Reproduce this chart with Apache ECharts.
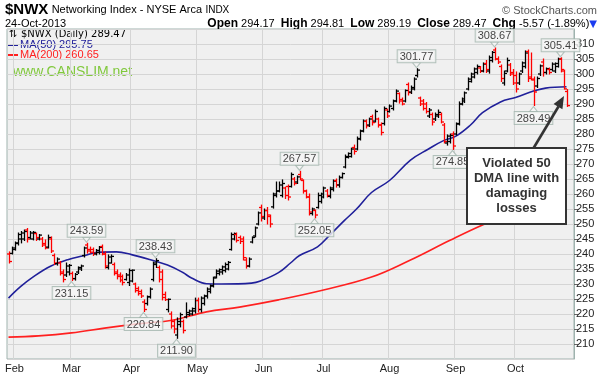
<!DOCTYPE html>
<html><head><meta charset="utf-8">
<script src="https://cdn.jsdelivr.net/npm/echarts@6/dist/echarts.min.js"></script>
<style>html,body{margin:0;padding:0;background:#fff}#c{width:602px;height:374px}</style>
</head><body><div id="c"></div>
<script>
// ---- categories (trading days, Jan 30 - Oct 24 2013) ----
const monthNames = ['Jan','Feb','Mar','Apr','May','Jun','Jul','Aug','Sep','Oct'];
const tradingDays = [
 [30,31],
 [1,4,5,6,7,8,11,12,13,14,15,19,20,21,22,25,26,27,28],
 [1,4,5,6,7,8,11,12,13,14,15,18,19,20,21,22,25,26,27,28],
 [1,2,3,4,5,8,9,10,11,12,15,16,17,18,19,22,23,24,25,26,29,30],
 [1,2,3,6,7,8,9,10,13,14,15,16,17,20,21,22,23,24,28,29,30,31],
 [3,4,5,6,7,10,11,12,13,14,17,18,19,20,21,24,25,26,27,28],
 [1,2,3,5,8,9,10,11,12,15,16,17,18,19,22,23,24,25,26,29,30,31],
 [1,2,5,6,7,8,9,12,13,14,15,16,19,20,21,22,23,26,27,28,29,30],
 [3,4,5,6,9,10,11,12,13,16,17,18,19,20,23,24,25,26,27,30],
 [1,2,3,4,7,8,9,10,11,14,15,16,17,18,21,22,23,24]
];
const padCategories = ['pad1','pad2'];

// ---- daily OHLC values ----
const openV = [240,240.2,241.5,243.5,245,245,248,245.5,245,246.8,245,245,243.5,242.3,245,239.5,236.8,237,234,233,234,233.5,231.8,234,235,239.5,243,241.5,241.5,240,240.5,242.5,240,235.5,237,236.5,234,233,232.5,231.5,230.5,231,230,228.5,227.5,224,223.5,225.8,231.5,236.5,235.5,234,226.5,221.5,220,217.5,213,216.5,217.5,219,219.8,220,221,224.5,221.5,223.5,226,227.5,229.5,232.3,233.5,234,234.5,235,241.5,245,246.5,245.5,245,238,236,244,246,250,255.5,252,254.5,252.5,255.7,259.5,261,259.5,262,262.5,262.5,265,264,266.5,264.5,261,259,253.5,254.5,255.5,257.5,259,261,259.2,261.5,264.5,263,265.5,269,272.2,272.5,275.5,275,278.3,281,284.2,283,285.8,284.3,285,283,283.5,288,287.5,288.5,291,293.5,291.5,291,296.5,294,295,299.5,292,291,290,286,286.5,285,286,286.5,283,277,277.5,280,280,283.5,290,291,295,297.5,299,300.5,302,301,303.5,301,304.5,308,305,302.5,297,301,303,300.5,299.5,297,301,302.5,307.5,299,298,296,300,304,300.5,301.5,301.5,301,302.5,305,301,294.17];
const highV = [240.7,242.3,244,247,247.5,248,248.5,247.5,247.5,247,246.5,245.5,244.7,246.3,245.7,240,238.7,237.5,234.7,237,236.5,234,233.5,235.7,236.3,242.3,243.59,242.3,242,241.5,242.5,243,240.7,239.7,239.7,237,234.7,233.7,233,233.5,235,234.7,230.3,229,228,224.7,226,228.7,237.3,238.43,236,234.7,227.3,225,220.7,218,218.7,220.3,218,223.7,221.3,222,225.3,225.3,225.7,226.3,228.7,229.7,232.3,234.7,235,236,237,237.5,247,247,247,246,245.7,238.7,238.7,245.7,249,254,256.3,255,255.5,253,260.3,264,264,264.7,262.3,263,267,265.5,266,267.57,264.7,261.3,260,255.3,254.7,260.3,260.3,262.3,261.5,262.3,264.7,265,266,267,273,273.7,275.3,276.3,279,281.3,284.7,284.7,285.3,286.3,288,285.3,283.7,289,288.3,289.7,291.3,294.7,293.7,292,294.7,297,296,298.7,301.77,292.3,291.5,290.5,288.5,287,287,288,287,283.5,279.7,280,280.7,283.7,290.7,292,294,298.7,300.3,302,303,302.5,303.7,304.5,306,307.5,308.67,305.7,303,301,305.3,303.5,301.5,300.7,300.3,304,307.7,308,307,299,299,303,305,302,302,303.7,303.7,305.3,305.41,301.3,294.81];
const lowV = [237,240,241.3,243,243.7,244.5,244,245,244.7,244.5,244.7,242.5,241.7,242,240.5,236.5,236.3,233,230.7,232.5,233,231.15,231.3,233.5,234.5,239,240.3,240.3,239.5,239.7,240,239.7,235.3,235,237,233,231.7,230.7,229.7,231.3,229.5,230.7,227.3,226.3,225.5,220.84,223,225.3,231,235.5,230.7,224.7,224.5,220.7,215.3,213.7,211.9,215.7,213.7,218.7,219.5,219.7,220.3,220.7,220.7,223,225.3,227,229,232,233,233.3,234,234.7,241.3,244.7,244,243.5,238,235.3,235.7,243.7,245.7,249.7,251,251.5,250,249,255.3,259,260.7,259,258.5,258,262.3,263,263.5,264.7,260.3,258.7,253,253,252.05,255.3,257,258.7,259,258.7,261,262.3,262.3,265.3,268.7,272,272.3,273.3,274.7,278,280.7,282,282.5,283,284,282.3,279.7,283,285.5,287.3,288,290.7,290.3,289.7,290.7,293,293.5,294.7,299,289.5,288,287,285.5,283,284.5,285.5,283.7,277,276.3,277,274.85,279.7,283,289.7,290.5,294.7,297.3,298.7,300,300.5,300.7,300.5,300.3,304,304.7,303.5,297.5,296.3,300.7,299.5,296.5,294,296.5,300.5,302,297.5,298,289.49,295.5,299.5,299.3,300,300,301,300.5,302.3,300.7,295,289.19];
const closeV = [237.5,242,243.7,246.5,247,247.5,245,247,247.2,245.5,246.3,243,242,245.5,241,237,238.3,233.5,231.5,236,236.2,231.8,233.2,235.5,236,242,241,240.6,240.2,241.2,242.2,240,236,239,239.2,233.5,232.5,231.3,230.5,233,234.5,234.6,227.8,226.8,226,221.5,225.7,228.3,237,237.8,231.5,225.5,224.8,224.9,216,215,217.5,219.8,214.5,220.5,221,221.8,224.5,221.5,225.3,226,228.3,229.3,232,234.3,234.8,235.7,236.5,237.2,246.5,246.8,244.5,244.2,238.8,236,238.3,245.5,248.7,253.7,252.5,254.5,253,250,260,261,263,263.5,259.5,259,266.5,263.5,265.7,265,261,259,254,255,253,259.5,260,262,259.5,262,264.3,263,265.5,266.8,272.5,273.5,275,274.2,278.5,281,284.3,282.7,285,283.8,287.5,283,280.5,288.5,286,289.3,291,294.3,291,290,294.5,293.8,295.5,298.3,301.3,290,288.5,287.5,288,284,286.5,287.2,284,277.5,279.3,279.5,276,283.3,290,291.7,293.7,298.3,300,301.7,302.5,301,303.3,301.5,305.5,307.2,305,304,298.5,300.2,304.5,300,297,295,300,303.7,307,298.5,298.3,294,298.5,302.7,300.5,301.8,300.5,303.3,303.5,305,301.5,295.04,289.47];

// ---- moving averages: [bar index, value] ----
const ma50Pts = [[0,225.3],[4,229.1],[8,232.2],[14,235.9],[20,238.2],[25,239.4],[30,240.6],[36,240.7],[41,239.8],[47,238.2],[53,236.3],[58,233.9],[61,232],[66,230.1],[71,230],[81,230.3],[84,231],[90,233.8],[94,237],[97,239.5],[103,242.4],[107,246.2],[112,251.2],[116,255],[121,260.5],[127,264.5],[134,271.3],[140,275],[145,277.8],[149,279.2],[154,283],[158,287.1],[164,290.7],[169,292.2],[175,294.3],[179,295.3],[186,295.75]];
const ma200Pts = [[0,212.3],[10,212.7],[21,213.7],[32,215.3],[43,216.7],[55,218],[66,220.7],[77,222.3],[90,224.7],[105,228],[121,232.3],[134,238],[147,244.5],[158,249.7],[171,255],[186,260.65]];

// ---- annotated highs / lows: [bar index, value] ----
const highLabels = [[26,243.59],[49,238.43],[97,267.57],[136,301.77],[162,308.67],[184,305.41]];
const lowLabels = [[21,231.15],[45,220.84],[56,211.90],[102,252.05],[148,274.85],[175,289.49]];

// ---- y axis ticks ----
const yMin = 205, yMax = 315, yStep = 5;

// build categories
const categories = [];
const monthStartIdx = new Set();
tradingDays.forEach((days, m) => {
  days.forEach((d, k) => {
    if (k === 0 && m > 0) monthStartIdx.add(categories.length);
    categories.push(monthNames[m] + ' ' + d);
  });
});
padCategories.forEach(p => categories.push(p));

const ohlc = closeV.map((c, i) => [i, openV[i], highV[i], lowV[i], c, (i > 0 && c >= closeV[i-1]) ? 1 : 0]);

function renderOHLC(params, api) {
  const i = api.value(0);
  const pO = api.coord([i, api.value(1)]);
  const pH = api.coord([i, api.value(2)]);
  const pL = api.coord([i, api.value(3)]);
  const pC = api.coord([i, api.value(4)]);
  const x = Math.round(pO[0]) + 0.5;
  const col = api.value(5) ? '#000000' : '#ff0000';
  const st = {stroke: col, lineWidth: 1.3};
  return {type: 'group', children: [
    {type: 'line', shape: {x1: x, y1: pH[1] - 0.5, x2: x, y2: pL[1] + 0.5}, style: st},
    {type: 'line', shape: {x1: x - 2.5, y1: pO[1], x2: x, y2: pO[1]}, style: st},
    {type: 'line', shape: {x1: x, y1: pC[1], x2: x + 2.5, y2: pC[1]}, style: st}
  ]};
}

const lblStyle = {
  show: true, formatter: p => p.value[1].toFixed(2), fontSize: 11,
  fontFamily: 'Liberation Sans', color: '#111', backgroundColor: '#f6f6f6',
  borderColor: '#a3b5ae', borderWidth: 1, padding: [1, 2, 0, 2]
};
const caretDown = 'path://M0,0 L8,0 L4,5 Z';
const caretUp = 'path://M0,5 L8,5 L4,0 Z';

const chart = echarts.init(document.getElementById('c'), null, {renderer: 'canvas'});
chart.setOption({
  animation: false,
  backgroundColor: '#ffffff',
  grid: {left: 7, right: 28, top: 29, height: 330, show: true, backgroundColor: '#f0f0f0', borderColor: '#9fb3ae', borderWidth: 1},
  xAxis: {
    type: 'category', data: categories, boundaryGap: true,
    axisLine: {show: false}, axisTick: {show: false},
    axisLabel: {interval: (idx) => monthStartIdx.has(idx), formatter: v => v.split(' ')[0],
      color: '#222', fontSize: 11, fontFamily: 'Liberation Sans', margin: 4},
    splitLine: {show: true, interval: (idx) => monthStartIdx.has(idx), lineStyle: {color: '#d5d5d5', width: 1}}
  },
  yAxis: {
    type: 'value', position: 'right', min: yMin, max: yMax, interval: yStep,
    axisLine: {show: true, lineStyle: {color: '#9fb3ae'}},
    axisTick: {show: true, length: 4, lineStyle: {color: '#666'}},
    axisLabel: {color: '#222', fontSize: 11, fontFamily: 'Liberation Sans', margin: 2, showMinLabel: false, showMaxLabel: false},
    splitLine: {lineStyle: {color: '#d5d5d5', width: 1}}
  },
  series: [
    {type: 'line', data: ma200Pts, smooth: 0.4, showSymbol: false, lineStyle: {color: '#ff2020', width: 1.6}, z: 2},
    {type: 'line', data: ma50Pts, smooth: 0.4, showSymbol: false, lineStyle: {color: '#20209a', width: 1.6}, z: 2},
    {type: 'custom', renderItem: renderOHLC, data: ohlc, encode: {x: 0, y: [1, 2, 3, 4]}, z: 3},
    {type: 'scatter', data: highLabels, symbol: caretDown, symbolSize: [8, 5], symbolOffset: [0, -3.5],
      itemStyle: {color: '#f6f6f6', borderColor: '#a3b5ae', borderWidth: 1}, z: 4, silent: true},
    {type: 'scatter', data: lowLabels, symbol: caretUp, symbolSize: [8, 5], symbolOffset: [0, 3.5],
      itemStyle: {color: '#f6f6f6', borderColor: '#a3b5ae', borderWidth: 1}, z: 4, silent: true},
    {type: 'scatter', data: highLabels, symbolSize: 1, itemStyle: {color: 'rgba(0,0,0,0)'}, z: 5,
      label: Object.assign({}, lblStyle, {position: 'top', distance: 6})},
    {type: 'scatter', data: lowLabels, symbolSize: 1, itemStyle: {color: 'rgba(0,0,0,0)'}, z: 5,
      label: Object.assign({}, lblStyle, {position: 'bottom', distance: 6})}
  ],
  graphic: [
    {type: 'text', x: 5, y: 10, style: {text: '{b|$NWX} {n|Networking Index - NYSE Arca} {s|INDX}', textVerticalAlign: 'middle',
      rich: {b: {font: 'bold 15px "Liberation Sans"', fill: '#000'}, n: {font: '11px "Liberation Sans"', fill: '#000'}, s: {font: '10px "Liberation Sans"', fill: '#000'}}}},
    {type: 'text', x: 597, y: 11, style: {text: '© StockCharts.com', font: '11px "Liberation Sans"', fill: '#555', textAlign: 'right', textVerticalAlign: 'middle'}},
    {type: 'text', x: 5, y: 24, style: {text: '24-Oct-2013', font: '11px "Liberation Sans"', fill: '#000', textVerticalAlign: 'middle'}},
    {type: 'text', x: 597, y: 24, style: {
      text: '{b|Open} 294.17  {b|High} 294.81  {b|Low} 289.19  {b|Close} 289.47  {b|Chg} -5.57 (-1.89%){t|▼}',
      font: '11px "Liberation Sans"', fill: '#000', textAlign: 'right', textVerticalAlign: 'middle',
      rich: {b: {font: 'bold 12px "Liberation Sans"', fill: '#000'}, t: {font: '10px "DejaVu Sans"', fill: '#1b3cf0'}}}},
    // legend
    {type: 'text', x: 9, y: 34, style: {text: '⇅', font: '10px "DejaVu Sans"', fill: '#000', textVerticalAlign: 'middle'}},
    {type: 'text', x: 21, y: 34, style: {text: '$NWX (Daily) 289.47', font: '10px "DejaVu Sans"', fill: '#000', textVerticalAlign: 'middle'}},
    {type: 'rect', shape: {x: 8, y: 44, width: 10, height: 2}, style: {fill: '#20209a'}},
    {type: 'text', x: 20, y: 45, style: {text: 'MA(50) 295.75', font: '11px "Liberation Sans"', fill: '#20209a', textVerticalAlign: 'middle'}},
    {type: 'rect', shape: {x: 8, y: 54, width: 10, height: 2}, style: {fill: '#ff2020'}},
    {type: 'text', x: 20, y: 55, style: {text: 'MA(200) 260.65', font: '11px "Liberation Sans"', fill: '#ff2020', textVerticalAlign: 'middle'}},
    {type: 'text', x: 13, y: 72, style: {text: 'www.CANSLIM.net', font: '14px "Liberation Sans"', fill: '#80c83c', textVerticalAlign: 'middle'}},
    // annotation
    {type: 'line', shape: {x1: 533, y1: 149, x2: 558.5, y2: 106.5}, style: {stroke: '#333', lineWidth: 2.6}, z: 10},
    {type: 'polygon', shape: {points: [[564, 96], [562.4, 109.2], [553.6, 103.9]]}, style: {fill: '#333'}, z: 10},
    {type: 'rect', shape: {x: 467, y: 148, width: 99, height: 76}, style: {fill: '#ffffff', stroke: '#333', lineWidth: 2}, z: 10},
    {type: 'text', x: 516.5, y: 186, z: 11, style: {text: 'Violated 50\nDMA line with\ndamaging\nlosses', font: 'bold 13px "Liberation Sans"',
      fill: '#333', textAlign: 'center', textVerticalAlign: 'middle', lineHeight: 15}}
  ]
});
</script></body></html>
